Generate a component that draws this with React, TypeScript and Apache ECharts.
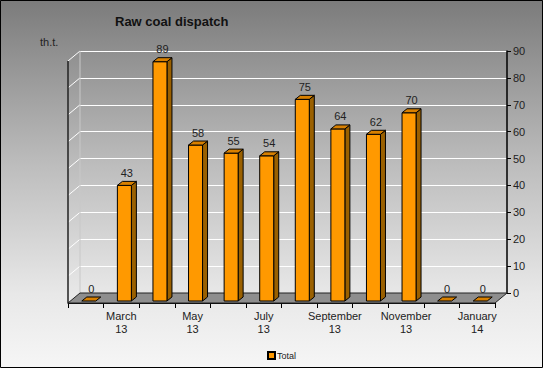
import React, { useEffect, useRef } from 'react';
import * as echarts from 'echarts';

const categories = ['February 13', 'March 13', 'April 13', 'May 13', 'June 13', 'July 13', 'August 13', 'September 13', 'October 13', 'November 13', 'December 13', 'January 14'];
const totals = [0, 43, 89, 58, 55, 54, 75, 64, 62, 70, 0, 0];
const yMin = 0;
const yMax = 90;
const yStep = 10;
const seriesName = 'Total';
const titleText = 'Raw coal dispatch';
const unitText = 'th.t.';

const FONT = '"Liberation Sans", Arial, sans-serif';
const DX = 12; // wall depth x
const DY = 10; // wall depth y
const BAR_OFF_X = 3;
const BAR_OFF_Y = -2;
const BAR_W = 14;
const BDX = 5;
const BDY = 4;

export default function App() {
  const ref = useRef<HTMLDivElement>(null);
  useEffect(() => {
    if (!ref.current) return;
    const chart = echarts.init(ref.current, null, { renderer: 'svg' });
    const frameRender = (params: any, api: any) => {
      const cs = params.coordSys;
      const x0 = cs.x;
      const x1 = cs.x + cs.width;
      const yb = cs.y + cs.height;
      const yt = cs.y;
      const children: any[] = [];
      for (let v = yMin + yStep; v <= yMax; v += yStep) {
        const y = api.coord([0, v])[1];
        children.push({
          type: 'line',
          shape: { x1: x0, y1: y, x2: x0 + DX, y2: y - DY },
          style: { stroke: '#ffffff', lineWidth: 1 },
        });
      }
      children.push({
        type: 'line',
        shape: { x1: x0 + DX, y1: yb - DY, x2: x0 + DX, y2: yt - DY },
        style: { stroke: '#c8c8c8', lineWidth: 1 },
      });
      children.push({
        type: 'polygon',
        shape: { points: [[x0, yb], [x1, yb], [x1 + DX, yb - DY], [x0 + DX, yb - DY]] },
        style: { fill: '#8e8e8e', stroke: '#222', lineWidth: 1 },
      });
      children.push({
        type: 'line',
        shape: { x1: x0, y1: yb, x2: x0, y2: yt },
        style: { stroke: '#222', lineWidth: 1.5 },
      });
      return { type: 'group', children };
    };
    const barRender = (params: any, api: any) => {
      const idx = api.value(0);
      const v = api.value(1);
      const top = api.coord([idx, v]);
      const base = api.coord([idx, 0]);
      const lx = top[0] - BAR_W / 2 + BAR_OFF_X;
      const rx = lx + BAR_W;
      const t = top[1] + BAR_OFF_Y;
      const b = base[1] + BAR_OFF_Y;
      const children: any[] = [];
      if (b - t > 0) {
        children.push({
          type: 'polygon',
          shape: { points: [[rx, t], [rx + BDX, t - BDY], [rx + BDX, b - BDY], [rx, b]] },
          style: { fill: '#9a6000', stroke: '#000', lineWidth: 1 },
        });
        children.push({
          type: 'rect',
          shape: { x: lx, y: t, width: BAR_W, height: b - t },
          style: { fill: '#ff9900', stroke: '#000', lineWidth: 1 },
        });
      }
      children.push({
        type: 'polygon',
        shape: { points: [[lx, t], [lx + BDX, t - BDY], [rx + BDX, t - BDY], [rx, t]] },
        style: { fill: '#d88000', stroke: '#000', lineWidth: 1 },
      });
      children.push({
        type: 'text',
        x: (lx + rx) / 2 + BDX / 2,
        y: t - BDY - 3,
        style: { text: String(v), fill: '#222', fontSize: 11, fontFamily: FONT, align: 'center', verticalAlign: 'bottom' },
      });
      return { type: 'group', children };
    };
    chart.setOption({
      animation: false,
      backgroundColor: new echarts.graphic.LinearGradient(0, 0, 0, 1, [
        { offset: 0, color: '#7b7b7b' },
        { offset: 0.45, color: '#bdbdbd' },
        { offset: 0.8, color: '#e8e8e8' },
        { offset: 1, color: '#f6f6f6' },
      ]),
      title: {
        text: titleText,
        left: 110,
        top: 10,
        textStyle: { fontSize: 13, fontWeight: 'bold', color: '#111', fontFamily: FONT },
      },
      graphic: [
        { type: 'rect', shape: { x: 0.5, y: 0.5, width: 542, height: 367 }, style: { fill: 'none', stroke: '#000', lineWidth: 1 }, silent: true, z: 100 },
        { type: 'text', x: 40, y: 36, style: { text: unitText, fill: '#222', fontSize: 11, fontFamily: FONT } },
      ],
      legend: {
        data: [{ name: seriesName, icon: 'rect' }],
        left: 262,
        top: 346,
        itemWidth: 7,
        itemHeight: 7,
        itemGap: 4,
        textStyle: { fontSize: 9, color: '#222', fontFamily: FONT, padding: [0, 0, 0, -3] },
      },
      grid: [
        { left: 80, top: 51, width: 427, height: 242 },
        { left: 68, top: 61, width: 427, height: 242 },
      ],
      xAxis: [
        { type: 'category', gridIndex: 0, data: categories, show: false },
        {
          type: 'category',
          gridIndex: 1,
          data: categories,
          axisLine: { show: true, lineStyle: { color: '#000', width: 1 } },
          axisTick: { show: true, interval: 0, length: 5, lineStyle: { color: '#000' } },
          axisLabel: {
            interval: (i: number) => i % 2 === 1,
            formatter: (val: string) => val.replace(' ', '\n'),
            fontSize: 11,
            lineHeight: 13,
            color: '#222',
            fontFamily: FONT,
            margin: 6,
          },
          splitLine: { show: false },
        },
      ],
      yAxis: [
        {
          type: 'value',
          gridIndex: 0,
          position: 'right',
          min: yMin,
          max: yMax,
          interval: yStep,
          axisLine: { show: true, lineStyle: { color: '#000', width: 1.5 } },
          axisTick: { show: true, length: 4, lineStyle: { color: '#000' } },
          axisLabel: { fontSize: 11, color: '#222', fontFamily: FONT, margin: 6 },
          splitLine: { show: true, lineStyle: { color: '#ffffff', width: 1 } },
        },
        { type: 'value', gridIndex: 1, min: yMin, max: yMax, interval: yStep, show: false, splitLine: { show: false } },
      ],
      series: [
        {
          type: 'custom',
          name: '_frame',
          xAxisIndex: 1,
          yAxisIndex: 1,
          renderItem: frameRender,
          data: [[0, 0]],
          z: 1,
          silent: true,
        },
        {
          type: 'custom',
          name: seriesName,
          xAxisIndex: 1,
          yAxisIndex: 1,
          renderItem: barRender,
          itemStyle: { color: '#ff9900', borderColor: '#000', borderWidth: 1 },
          data: totals.map((v, i) => [i, v]),
          z: 3,
        },
      ],
    });
    return () => chart.dispose();
  }, []);
  return <div ref={ref} style={{ position: 'absolute', left: 0, top: 0, width: 543, height: 368 }} />;
}
